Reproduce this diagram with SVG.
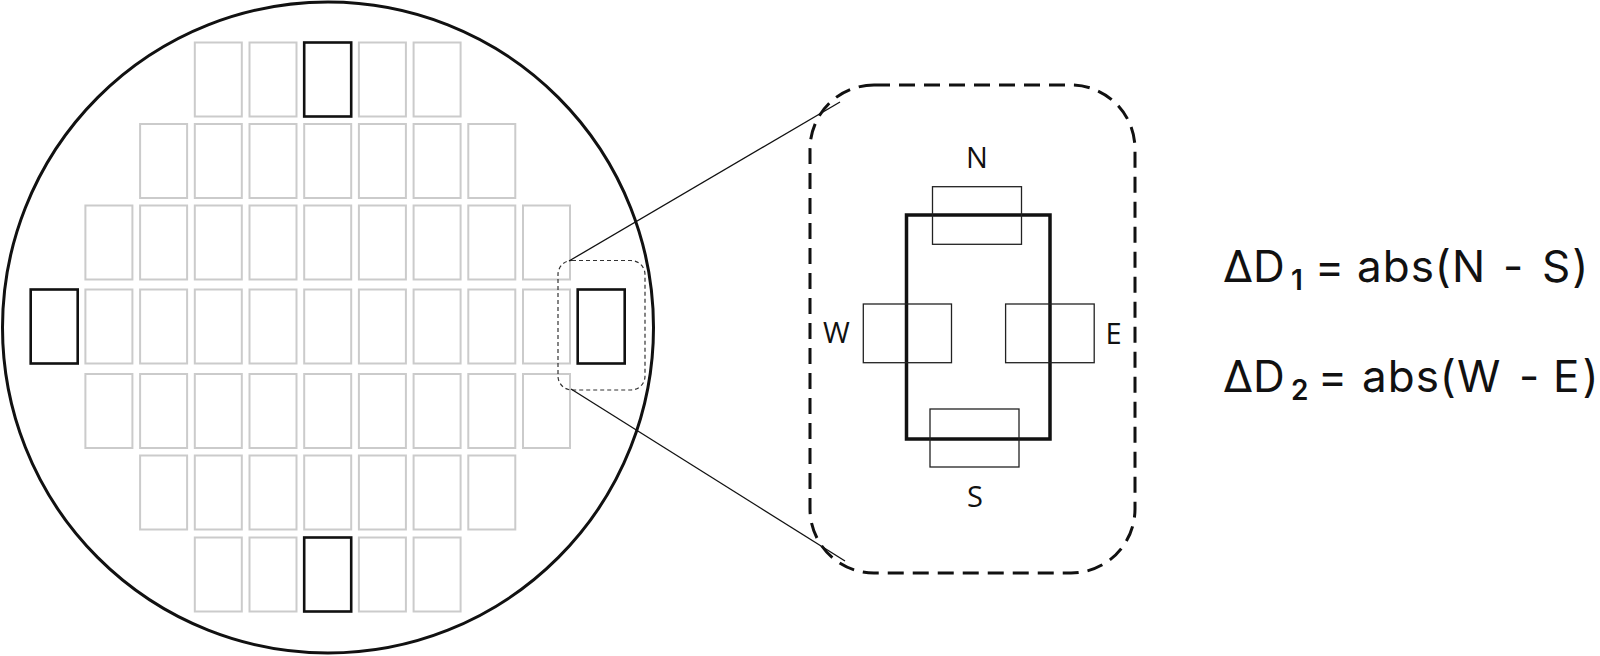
<svg xmlns="http://www.w3.org/2000/svg" width="1600" height="656" viewBox="0 0 1600 656">
<style>
.cell{fill:none;stroke:#cbcbcb;stroke-width:2}
.sel{fill:none;stroke:#111;stroke-width:2.6}
.pad{fill:none;stroke:#222;stroke-width:1.3}
.lbl{font-family:"Open Sans","Noto Sans",sans-serif;font-size:29px;fill:#111;text-anchor:middle}
.f{font-family:Inter,"Noto Sans",sans-serif;font-size:44px;fill:#111}
.sub{font-size:28px;font-weight:600}
.w{letter-spacing:1px}
.conn{stroke:#111;stroke-width:1.3;fill:none}
</style>
<rect width="1600" height="656" fill="#fff"/>
<g id="wafer">
<circle cx="328" cy="327.5" r="325.5" fill="none" stroke="#111" stroke-width="3"/>
<g id="grid">
<rect class="cell" x="194.8" y="42.5" width="47" height="74"/>
<rect class="cell" x="249.5" y="42.5" width="47" height="74"/>
<rect class="cell" x="358.9" y="42.5" width="47" height="74"/>
<rect class="cell" x="413.6" y="42.5" width="47" height="74"/>

<rect class="cell" x="140.1" y="124" width="47" height="74"/>
<rect class="cell" x="194.8" y="124" width="47" height="74"/>
<rect class="cell" x="249.5" y="124" width="47" height="74"/>
<rect class="cell" x="304.2" y="124" width="47" height="74"/>
<rect class="cell" x="358.9" y="124" width="47" height="74"/>
<rect class="cell" x="413.6" y="124" width="47" height="74"/>
<rect class="cell" x="468.3" y="124" width="47" height="74"/>

<rect class="cell" x="85.4" y="205.5" width="47" height="74"/>
<rect class="cell" x="140.1" y="205.5" width="47" height="74"/>
<rect class="cell" x="194.8" y="205.5" width="47" height="74"/>
<rect class="cell" x="249.5" y="205.5" width="47" height="74"/>
<rect class="cell" x="304.2" y="205.5" width="47" height="74"/>
<rect class="cell" x="358.9" y="205.5" width="47" height="74"/>
<rect class="cell" x="413.6" y="205.5" width="47" height="74"/>
<rect class="cell" x="468.3" y="205.5" width="47" height="74"/>
<rect class="cell" x="523" y="205.5" width="47" height="74"/>

<rect class="cell" x="85.4" y="289.5" width="47" height="74"/>
<rect class="cell" x="140.1" y="289.5" width="47" height="74"/>
<rect class="cell" x="194.8" y="289.5" width="47" height="74"/>
<rect class="cell" x="249.5" y="289.5" width="47" height="74"/>
<rect class="cell" x="304.2" y="289.5" width="47" height="74"/>
<rect class="cell" x="358.9" y="289.5" width="47" height="74"/>
<rect class="cell" x="413.6" y="289.5" width="47" height="74"/>
<rect class="cell" x="468.3" y="289.5" width="47" height="74"/>
<rect class="cell" x="523" y="289.5" width="47" height="74"/>

<rect class="cell" x="85.4" y="374" width="47" height="74"/>
<rect class="cell" x="140.1" y="374" width="47" height="74"/>
<rect class="cell" x="194.8" y="374" width="47" height="74"/>
<rect class="cell" x="249.5" y="374" width="47" height="74"/>
<rect class="cell" x="304.2" y="374" width="47" height="74"/>
<rect class="cell" x="358.9" y="374" width="47" height="74"/>
<rect class="cell" x="413.6" y="374" width="47" height="74"/>
<rect class="cell" x="468.3" y="374" width="47" height="74"/>
<rect class="cell" x="523" y="374" width="47" height="74"/>

<rect class="cell" x="140.1" y="455.5" width="47" height="74"/>
<rect class="cell" x="194.8" y="455.5" width="47" height="74"/>
<rect class="cell" x="249.5" y="455.5" width="47" height="74"/>
<rect class="cell" x="304.2" y="455.5" width="47" height="74"/>
<rect class="cell" x="358.9" y="455.5" width="47" height="74"/>
<rect class="cell" x="413.6" y="455.5" width="47" height="74"/>
<rect class="cell" x="468.3" y="455.5" width="47" height="74"/>

<rect class="cell" x="194.8" y="537.5" width="47" height="74"/>
<rect class="cell" x="249.5" y="537.5" width="47" height="74"/>
<rect class="cell" x="358.9" y="537.5" width="47" height="74"/>
<rect class="cell" x="413.6" y="537.5" width="47" height="74"/>
</g>
<g id="selected-dies">
<rect id="die-top" class="sel" x="304.2" y="42.5" width="47" height="74"/>
<rect id="die-left" class="sel" x="30.7" y="289.5" width="47" height="74"/>
<rect id="die-right" class="sel" x="577.7" y="289.5" width="47" height="74"/>
<rect id="die-bottom" class="sel" x="304.2" y="537.5" width="47" height="74"/>
</g>
<rect id="zoom-source" x="558" y="260.5" width="87" height="129.5" rx="14" fill="none" stroke="#333" stroke-width="1.2" stroke-dasharray="4 3"/>
</g>
<g id="connectors">
<line class="conn" x1="569" y1="261" x2="840" y2="102"/>
<line class="conn" x1="571" y1="389" x2="845" y2="561"/>
</g>
<g id="zoom-view">
<rect x="810" y="85" width="325" height="488" rx="64" fill="none" stroke="#111" stroke-width="3" stroke-dasharray="16 9"/>
<rect id="die" x="906.5" y="215" width="143.5" height="224" fill="none" stroke="#111" stroke-width="3.5"/>
<g id="pad-N"><rect class="pad" x="932.5" y="186.7" width="89" height="57.6"/><text class="lbl" x="977" y="168">N</text></g>
<g id="pad-S"><rect class="pad" x="930" y="409" width="89" height="58"/><text class="lbl" x="975" y="507">S</text></g>
<g id="pad-W"><rect class="pad" x="863.3" y="304" width="88.2" height="58.7"/><text class="lbl" x="836.5" y="343">W</text></g>
<g id="pad-E"><rect class="pad" x="1005.6" y="304" width="88.6" height="58.7"/><text class="lbl" x="1113.5" y="344">E</text></g>
</g>
<g id="formulas">
<text class="f" y="281.5"><tspan x="1223">ΔD</tspan><tspan class="sub" x="1291" dy="8.5">1</tspan><tspan x="1315" dy="-8.5">=</tspan><tspan class="w" x="1357">abs(N</tspan><tspan x="1503">-</tspan><tspan x="1542" style="letter-spacing:2px">S)</tspan></text>
<text class="f" y="391.5"><tspan x="1223">ΔD</tspan><tspan class="sub" x="1291" dy="8.5">2</tspan><tspan x="1318" dy="-8.5">=</tspan><tspan class="w" x="1362">abs(W</tspan><tspan x="1519">-</tspan><tspan x="1553" style="letter-spacing:3px">E)</tspan></text>
</g>
</svg>
